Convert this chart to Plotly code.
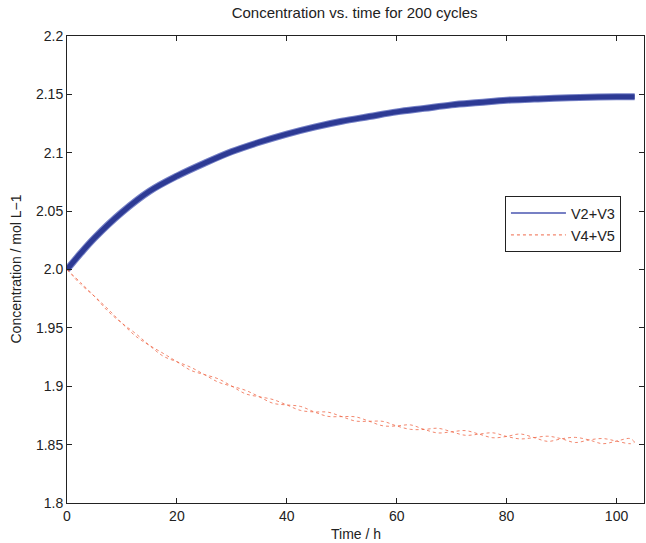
import plotly.graph_objects as go

# ---- data ----
blue_time = [0, 2.5, 5, 10, 15, 20, 25, 30, 35, 40, 45, 50, 55, 60, 65, 70, 75, 80, 85, 90, 95, 100, 103.3]
blue_conc = [2.000, 2.014, 2.027, 2.049, 2.067, 2.080, 2.091, 2.101, 2.109, 2.116, 2.122, 2.127,
             2.131, 2.135, 2.138, 2.141, 2.143, 2.145, 2.146, 2.147, 2.1475, 2.148, 2.148]

red_time = [0, 2.5, 5, 7.5, 10, 12.5, 15, 17.5, 20, 22.5, 25, 27.5, 30, 32.5, 35, 37.5, 40, 42.5,
            45, 47.5, 50, 52.5, 55, 57.5, 60, 62.5, 65, 67.5, 70, 72.5, 75, 77.5, 80, 82.5, 85,
            87.5, 90, 92.5, 95, 97.5, 100, 102.5, 103.3]
red_centre = [2.000, 1.988, 1.977, 1.965, 1.954, 1.944, 1.935, 1.927, 1.921, 1.915, 1.910, 1.905,
              1.900, 1.895, 1.891, 1.887, 1.884, 1.881, 1.878, 1.876, 1.874, 1.872, 1.870, 1.868,
              1.866, 1.865, 1.863, 1.862, 1.861, 1.860, 1.859, 1.858, 1.857, 1.857, 1.856, 1.855,
              1.855, 1.854, 1.854, 1.853, 1.853, 1.853, 1.852]
red_offset = [0, 0.0007, 0, -0.0009, 0, 0.0011, 0, -0.0012, 0, 0.0013, 0, -0.0014, 0, 0.0015,
              0, -0.0016, 0, 0.0017, 0, -0.0018, 0, 0.0018, 0, -0.0019, 0, 0.0019, 0, -0.0020,
              0, 0.0020, 0, -0.0021, 0, 0.0021, 0, -0.0022, 0, 0.0022, 0, -0.0022, 0, 0.0022, 0]

x_ticks = [0, 20, 40, 60, 80, 100]
y_ticks = [1.8, 1.85, 1.9, 1.95, 2.0, 2.05, 2.1, 2.15, 2.2]
y_tick_labels = ["1.8", "1.85", "1.9", "1.95", "2.0", "2.05", "2.1", "2.15", "2.2"]

BLUE = "#2d3a94"
RED = "rgba(238,95,62,0.75)"
FONT = "Liberation Sans, Arial, Helvetica, sans-serif"

strand_a = [c + o for c, o in zip(red_centre, red_offset)]
strand_b = [c - o for c, o in zip(red_centre, red_offset)]

fig = go.Figure()
fig.add_trace(go.Scatter(x=blue_time, y=blue_conc, mode="lines", showlegend=False,
                         line=dict(color="#7580c6", width=7, shape="spline")))
fig.add_trace(go.Scatter(x=blue_time, y=blue_conc, mode="lines", showlegend=False,
                         line=dict(color=BLUE, width=5, shape="spline")))
fig.add_trace(go.Scatter(x=red_time, y=strand_a, mode="lines", showlegend=False,
                         line=dict(color=RED, width=1, dash="dot", shape="spline")))
fig.add_trace(go.Scatter(x=red_time, y=strand_b, mode="lines", showlegend=False,
                         line=dict(color=RED, width=1, dash="dot", shape="spline")))
fig.add_trace(go.Scatter(x=[None], y=[None], mode="lines", name="V2+V3",
                         line=dict(color="#4a56b0", width=1.5)))
fig.add_trace(go.Scatter(x=[None], y=[None], mode="lines", name="V4+V5",
                         line=dict(color=RED, width=1.2, dash="dot")))

axis_common = dict(showgrid=False, zeroline=False, showline=True, linecolor="#222",
                   linewidth=1, mirror="ticks", ticks="inside", ticklen=5, tickcolor="#222",
                   automargin=False,
                   tickfont=dict(size=14, color="#222", family=FONT))

fig.update_layout(
    width=646, height=543,
    margin=dict(l=67, r=2, t=36, b=40, autoexpand=False),
    paper_bgcolor="white", plot_bgcolor="white",
    font=dict(family=FONT, size=14, color="#222"),
    title=dict(text="Concentration vs. time for 200 cycles", x=0.549, xanchor="center",
               y=1 - 13 / 543, yanchor="middle", yref="container",
               font=dict(size=15, color="#222", family=FONT)),
    xaxis=dict(range=[0, 105], tickvals=x_ticks, **axis_common),
    yaxis=dict(range=[1.8, 2.2], tickvals=y_ticks, ticktext=y_tick_labels, **axis_common),
    legend=dict(x=0.759, y=0.657, xanchor="left", yanchor="top", bgcolor="white",
                bordercolor="#222", borderwidth=1, font=dict(size=14.5, family=FONT, color="#222"),
                tracegroupgap=0, itemwidth=55),
    annotations=[
        dict(text="Time / h", xref="paper", yref="paper", x=0.5, y=0, yshift=-31,
             xanchor="center", yanchor="middle", showarrow=False,
             font=dict(size=14, family=FONT, color="#222")),
        dict(text="Concentration / mol L\u22121", xref="paper", yref="paper", x=0, y=0.5,
             xshift=-52, xanchor="center", yanchor="middle", textangle=-90, showarrow=False,
             font=dict(size=14, family=FONT, color="#222")),
    ],
)

fig.write_html("out.html", config={"displayModeBar": False},
               post_script="document.body.style.margin='0';document.body.style.padding='0';")
